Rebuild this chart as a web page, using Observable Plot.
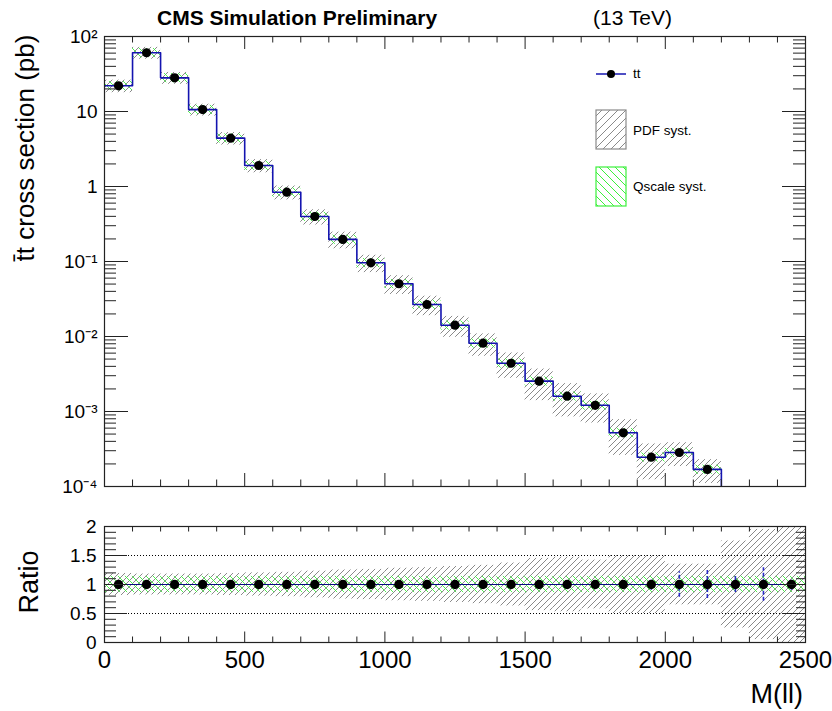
<!DOCTYPE html>
<html><head><meta charset="utf-8">
<script src="https://cdn.jsdelivr.net/npm/d3@7"></script>
<script src="https://cdn.jsdelivr.net/npm/@observablehq/plot@0.6"></script>
<style>
html,body{margin:0;padding:0;background:#fff;}
#wrap{position:relative;width:832px;height:711px;font-family:"Liberation Sans",Arial,Helvetica,sans-serif;}
#wrap svg{position:absolute;left:0;}
</style></head><body>
<svg width="0" height="0" style="position:absolute">
  <defs>
    <pattern id="hatchPdf" patternUnits="userSpaceOnUse" width="6" height="6">
      <path d="M-1,1 l2,-2 M0,6 l6,-6 M5,7 l2,-2" stroke="#8a8a8a" stroke-width="1" fill="none"/>
    </pattern>
    <pattern id="hatchQs" patternUnits="userSpaceOnUse" width="7" height="7">
      <path d="M-1,6 l2,2 M0,0 l7,7 M6,-1 l2,2" stroke="#3cf03c" stroke-width="0.9" fill="none"/>
    </pattern>
    <pattern id="hatchPdfLeg" patternUnits="userSpaceOnUse" width="8" height="8">
      <path d="M-1,1 l2,-2 M0,8 l8,-8 M7,9 l2,-2" stroke="#8a8a8a" stroke-width="1" fill="none"/>
    </pattern>
    <pattern id="hatchQsLeg" patternUnits="userSpaceOnUse" width="8" height="8">
      <path d="M-1,7 l2,2 M0,0 l8,8 M7,-1 l2,2" stroke="#3cf03c" stroke-width="1" fill="none"/>
    </pattern>
  </defs>
</svg>
<div id="wrap"></div>
<script>
// ---------------- data ----------------
const binLow    = [0,100,200,300,400,500,600,700,800,900,1000,1100,1200,1300,1400,1500,1600,1700,1800,1900,2000,2100,2200,2300,2400];
const binHigh   = [100,200,300,400,500,600,700,800,900,1000,1100,1200,1300,1400,1500,1600,1700,1800,1900,2000,2100,2200,2300,2400,2500];
const binCenter = [50,150,250,350,450,550,650,750,850,950,1050,1150,1250,1350,1450,1550,1650,1750,1850,1950,2050,2150,2250,2350,2450];
const crossSection = [22.0,60.7,28.1,10.6,4.41,1.905,0.839,0.398,0.197,0.0961,0.0505,0.0267,0.01415,0.00814,0.0044,0.00254,0.0016,0.00121,0.00052,0.000246,0.000284,0.000169,null,null,null];
const pdfSyst    = [0.19,0.18,0.18,0.18,0.19,0.20,0.21,0.23,0.25,0.26,0.28,0.29,0.31,0.33,0.37,0.45,0.47,0.42,0.50,0.50,0.35,0.35,0.75,0.95,1.00];
const qscaleSyst = [0.14,0.14,0.14,0.14,0.14,0.14,0.14,0.14,0.14,0.14,0.14,0.14,0.14,0.14,0.14,0.14,0.14,0.14,0.14,0.14,0.14,0.14,0.14,0.14,0.14];
const ratio      = [1,1,1,1,1,1,1,1,1,1,1,1,1,1,1,1,1,1,1,1,1,1,1,1,1];
const ratioStat  = [0,0,0,0,0,0,0,0,0,0,0,0,0,0,0.01,0.01,0.02,0.02,0.04,0.10,0.22,0.24,0.14,0.29,0.10];

const xMajorTicks = [0,500,1000,1500,2000,2500];
const xTickLabels = ["0","500","1000","1500","2000","2500"];
const yMajorTicks = [100,10,1,0.1,0.01,0.001,0.0001];
const yTickLabels = ["10²","10","1","10⁻¹","10⁻²","10⁻³","10⁻⁴"];
const ratioTicks = [0,0.5,1,1.5,2];
const ratioTickLabels = ["0","0.5","1","1.5","2"];
const yDomain = [1e-4, 100];

// ---------------- derived tables ----------------
const rows = binLow.map((lo, i) => ({lo, hi: binHigh[i], mid: binCenter[i], xs: crossSection[i], pdf: pdfSyst[i], qs: qscaleSyst[i], r: ratio[i], st: ratioStat[i]}));
const topRows = rows.filter(d => d.xs != null);
const stepTop = [];
topRows.forEach(d => { stepTop.push({x: d.lo, y: d.xs}); stepTop.push({x: d.hi, y: d.xs}); });
stepTop.push({x: topRows[topRows.length - 1].hi, y: yDomain[0]});
const stepRatio = [];
rows.forEach(d => { stepRatio.push({x: d.lo, y: d.r}); stepRatio.push({x: d.hi, y: d.r}); });

const xMinor = d3.range(0, 2501, 100).filter(v => v % 500 !== 0);
const yMinor = [];
for (let k = -4; k <= 1; k++) for (let m = 2; m <= 9; m++) yMinor.push(m * Math.pow(10, k));
const rMinor = d3.range(0, 21).filter(i => i % 5 !== 0).map(i => i / 10);

const FONT = "'Liberation Sans', Arial, Helvetica, sans-serif";
const AX = "#222";
const wrap = document.getElementById("wrap");

// ---------------- top panel ----------------
const T = {w: 832, h: 500, mt: 36, mr: 27, mb: 14, ml: 104};
const TW = T.w - T.ml - T.mr, TH = T.h - T.mt - T.mb;
const topPlot = Plot.plot({
  width: T.w, height: T.h,
  marginTop: T.mt, marginRight: T.mr, marginBottom: T.mb, marginLeft: T.ml,
  style: {fontFamily: FONT, background: "transparent", overflow: "visible"},
  x: {domain: [0, 2500], axis: null},
  y: {type: "log", domain: yDomain, axis: null},
  marks: [
    Plot.rect(topRows, {x1: "lo", x2: "hi", y1: d => d.xs * (1 - d.pdf), y2: d => d.xs * (1 + d.pdf), fill: "url(#hatchPdf)", clip: true}),
    Plot.rect(topRows, {x1: "lo", x2: "hi", y1: d => d.xs * (1 - d.qs), y2: d => d.xs * (1 + d.qs), fill: "url(#hatchQs)", clip: true}),
    Plot.line(stepTop, {x: "x", y: "y", stroke: "#1414b0", strokeWidth: 1.6, clip: true}),
    Plot.dot(topRows, {x: "mid", y: "xs", r: 4.6, fill: "#000"}),
    Plot.frame({stroke: AX, strokeWidth: 1.2}),
    Plot.tickX(xMajorTicks, {x: d => d, insetTop: TH - 13, stroke: AX}),
    Plot.tickX(xMinor, {x: d => d, insetTop: TH - 6.5, stroke: AX}),
    Plot.tickX(xMajorTicks, {x: d => d, insetBottom: TH - 13, stroke: AX}),
    Plot.tickX(xMinor, {x: d => d, insetBottom: TH - 6.5, stroke: AX}),
    Plot.tickY(yMajorTicks, {y: d => d, insetRight: TW - 24, stroke: AX}),
    Plot.tickY(yMinor, {y: d => d, insetRight: TW - 12, stroke: AX}),
    Plot.tickY(yMajorTicks, {y: d => d, insetLeft: TW - 23, stroke: AX}),
    Plot.tickY(yMinor, {y: d => d, insetLeft: TW - 12, stroke: AX}),
    Plot.text(yMajorTicks, {y: d => d, text: (d, i) => yTickLabels[i], frameAnchor: "left", textAnchor: "end", dx: -7, fontSize: 19, fill: "#000"})
  ]
});
topPlot.style.top = "0px";
wrap.appendChild(topPlot);

// ---------------- ratio panel ----------------
const R = {w: 832, h: 211, mt: 26, mr: 27, mb: 69, ml: 104};
const RW = R.w - R.ml - R.mr, RH = R.h - R.mt - R.mb;
const ratioPlot = Plot.plot({
  width: R.w, height: R.h,
  marginTop: R.mt, marginRight: R.mr, marginBottom: R.mb, marginLeft: R.ml,
  style: {fontFamily: FONT, background: "transparent", overflow: "visible"},
  x: {domain: [0, 2500], axis: null},
  y: {domain: [0, 2], axis: null},
  marks: [
    Plot.rect(rows, {x1: "lo", x2: "hi", y1: d => d.r - d.pdf, y2: d => d.r + d.pdf, fill: "url(#hatchPdf)", clip: true}),
    Plot.rect(rows, {x1: "lo", x2: "hi", y1: d => d.r - d.qs, y2: d => d.r + d.qs, fill: "url(#hatchQs)", clip: true}),
    Plot.ruleY([0.5, 1.5], {stroke: "#000", strokeDasharray: "1,2", strokeWidth: 1}),
    Plot.line(stepRatio, {x: "x", y: "y", stroke: "#0a0a80", strokeWidth: 1.2}),
    Plot.ruleX(rows.filter(d => d.st > 0), {x: "mid", y1: d => d.r - d.st, y2: d => d.r + d.st, stroke: "#2a2ac8", strokeWidth: 1.6, strokeDasharray: "4,2"}),
    Plot.dot(rows, {x: "mid", y: "r", r: 4.7, fill: "#000"}),
    Plot.frame({stroke: AX, strokeWidth: 1.2}),
    Plot.tickX(xMajorTicks, {x: d => d, insetTop: RH - 10.5, stroke: AX}),
    Plot.tickX(xMinor, {x: d => d, insetTop: RH - 5.5, stroke: AX}),
    Plot.tickX(xMajorTicks, {x: d => d, insetBottom: RH - 9, stroke: AX}),
    Plot.tickX(xMinor, {x: d => d, insetBottom: RH - 5.5, stroke: AX}),
    Plot.tickY(ratioTicks, {y: d => d, insetRight: RW - 23, stroke: AX}),
    Plot.tickY(rMinor, {y: d => d, insetRight: RW - 12, stroke: AX}),
    Plot.tickY(ratioTicks, {y: d => d, insetLeft: RW - 23, stroke: AX}),
    Plot.tickY(rMinor, {y: d => d, insetLeft: RW - 9, stroke: AX}),
    Plot.text(ratioTicks, {y: d => d, text: (d, i) => ratioTickLabels[i], frameAnchor: "left", textAnchor: "end", dx: -8, fontSize: 19, fill: "#000"}),
    Plot.text(xMajorTicks, {x: d => d, text: (d, i) => xTickLabels[i], frameAnchor: "bottom", lineAnchor: "bottom", dy: 25, fontSize: 24, fill: "#000"})
  ]
});
ratioPlot.style.top = "500px";
wrap.appendChild(ratioPlot);

// ---------------- titles, axis titles, legend ----------------
const ov = d3.select(wrap).append("svg")
  .attr("width", 832).attr("height", 711)
  .style("top", "0px").style("pointer-events", "none")
  .style("font-family", FONT);
ov.append("text").attr("x", 157).attr("y", 25).attr("font-size", 21).attr("font-weight", "bold").text("CMS Simulation Preliminary");
ov.append("text").attr("x", 593).attr("y", 25).attr("font-size", 21).text("(13 TeV)");
ov.append("text").attr("transform", "translate(34,148) rotate(-90)").attr("text-anchor", "middle").attr("font-size", 26).text("t\u0304t cross section (pb)");
ov.append("text").attr("transform", "translate(38,582) rotate(-90)").attr("text-anchor", "middle").attr("font-size", 27).text("Ratio");
ov.append("text").attr("x", 803).attr("y", 703).attr("text-anchor", "end").attr("font-size", 27).text("M(ll)");
ov.append("line").attr("x1", 596).attr("x2", 626).attr("y1", 74).attr("y2", 74).attr("stroke", "#1414b0").attr("stroke-width", 1.5);
ov.append("circle").attr("cx", 611).attr("cy", 74).attr("r", 4).attr("fill", "#000");
ov.append("text").attr("x", 633).attr("y", 78).attr("font-size", 13.5).text("tt");
ov.append("rect").attr("x", 596).attr("y", 110).attr("width", 30).attr("height", 39).attr("fill", "url(#hatchPdfLeg)").attr("stroke", "#8a8a8a").attr("stroke-width", 1.2);
ov.append("text").attr("x", 633).attr("y", 135).attr("font-size", 13.5).text("PDF syst.");
ov.append("rect").attr("x", 596).attr("y", 167).attr("width", 30).attr("height", 39).attr("fill", "url(#hatchQsLeg)").attr("stroke", "#3cf03c").attr("stroke-width", 1.2);
ov.append("text").attr("x", 633).attr("y", 191).attr("font-size", 13.5).text("Qscale syst.");
</script>
</body></html>
